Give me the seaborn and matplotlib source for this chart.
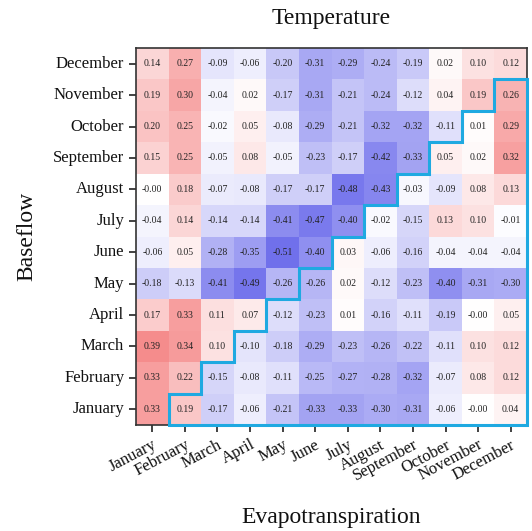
import numpy as np
import pandas as pd
import matplotlib
matplotlib.use("Agg")
import matplotlib.pyplot as plt
from matplotlib.colors import LinearSegmentedColormap
import seaborn as sns

months = ["January", "February", "March", "April", "May", "June", "July",
          "August", "September", "October", "November", "December"]

# Rows: baseflow month (listed December at top down to January)
row_labels = months[::-1]
# Columns: evapotranspiration month
col_labels = months

dec = [0.14, 0.27, -0.09, -0.06, -0.20, -0.31, -0.29, -0.24, -0.19, 0.02, 0.10, 0.12]
nov = [0.19, 0.30, -0.04, 0.02, -0.17, -0.31, -0.21, -0.24, -0.12, 0.04, 0.19, 0.26]
oct_ = [0.20, 0.25, -0.02, 0.05, -0.08, -0.29, -0.21, -0.32, -0.32, -0.11, 0.01, 0.29]
sep = [0.15, 0.25, -0.05, 0.08, -0.05, -0.23, -0.17, -0.42, -0.33, 0.05, 0.02, 0.32]
aug = [-0.00, 0.18, -0.07, -0.08, -0.17, -0.17, -0.48, -0.43, -0.03, -0.09, 0.08, 0.13]
jul = [-0.04, 0.14, -0.14, -0.14, -0.41, -0.47, -0.40, -0.02, -0.15, 0.13, 0.10, -0.01]
jun = [-0.06, 0.05, -0.28, -0.35, -0.51, -0.40, 0.03, -0.06, -0.16, -0.04, -0.04, -0.04]
may = [-0.18, -0.13, -0.41, -0.49, -0.26, -0.26, 0.02, -0.12, -0.23, -0.40, -0.31, -0.30]
apr = [0.17, 0.33, 0.11, 0.07, -0.12, -0.23, 0.01, -0.16, -0.11, -0.19, -0.00, 0.05]
mar = [0.39, 0.34, 0.10, -0.10, -0.18, -0.29, -0.23, -0.26, -0.22, -0.11, 0.10, 0.12]
feb = [0.33, 0.22, -0.15, -0.08, -0.11, -0.25, -0.27, -0.28, -0.32, -0.07, 0.08, 0.12]
jan = [0.33, 0.19, -0.17, -0.06, -0.21, -0.33, -0.33, -0.30, -0.31, -0.06, -0.00, 0.04]

values = [dec, nov, oct_, sep, aug, jul, jun, may, apr, mar, feb, jan]
df = pd.DataFrame(values, index=row_labels, columns=col_labels)

sns.set_theme(style="white")
plt.rcParams["font.family"] = ["Liberation Serif", "DejaVu Serif"]

cmap = LinearSegmentedColormap.from_list(
    "blue_white_red", [(0.12, 0.12, 0.88), (1, 1, 1), (0.92, 0.08, 0.08)])

fig = plt.figure(figsize=(5.32, 5.31), dpi=100)
ax = fig.add_axes([136 / 532, 1 - 425 / 531, 391 / 532, 377 / 531])

sns.heatmap(df, ax=ax, cmap=cmap, vmin=-0.8, vmax=0.8, center=0,
            annot=True, fmt=".2f", cbar=False,
            annot_kws={"size": 7, "color": "#222222"})

# Outline of the cells where the evapotranspiration month follows the baseflow month
n = len(months)
xs, ys = [1], [n]
for k in range(1, n):
    xs += [k, k + 1]
    ys += [n - k, n - k]
    xs.append(k + 1)
    ys.append(n - k - 1)
xs, ys = xs[:-1], ys[:-1]
xs += [n, n, 1]
ys += [1, n, n]
ax.plot(xs, ys, color="#1fa9e1", lw=2.2, solid_joinstyle="miter", clip_on=False, zorder=5)

for s in ax.spines.values():
    s.set_visible(True)
    s.set_color("#333333")
    s.set_linewidth(1.2)

ax.tick_params(axis="both", which="both", length=5, width=1.2, color="#222222",
               bottom=True, left=True)
ax.set_yticklabels(row_labels, rotation=0, fontsize=12, color="#111111")
ax.set_xticklabels(col_labels, rotation=28, ha="right", rotation_mode="anchor",
                   fontsize=12, color="#111111")

ax.set_title("Temperature", fontsize=17, pad=17, color="#111111")
ax.set_xlabel("Evapotranspiration", fontsize=17, labelpad=16, color="#111111")
ax.set_ylabel("Baseflow", fontsize=17, labelpad=11, color="#111111")

fig.savefig("out.png", dpi=100)
